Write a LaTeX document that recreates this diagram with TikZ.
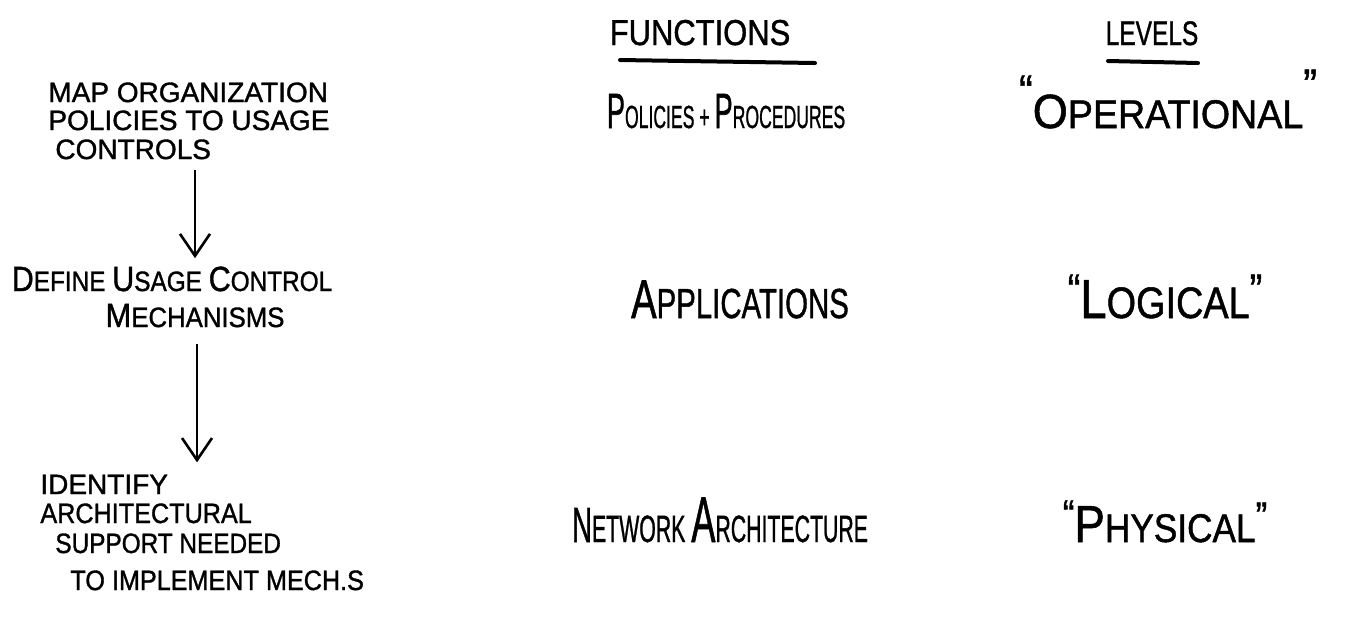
\documentclass[tikz,border=0pt]{standalone}
\usepackage{fontspec}
\setmainfont{Liberation Sans}[BoldFont=Liberation Sans, BoldFeatures={FakeBold=1.2}]
\usetikzlibrary{arrows.meta}
\newcommand\Bg[2][1.35]{\scalebox{#1}{#2}}
\newcommand\hw[2]{\scalebox{#1}[1]{#2}}
\begin{document}
\begin{tikzpicture}[x=0.5pt,y=-0.5pt,
  lbl/.style={inner sep=0pt, font=\fontsize{14}{15}\selectfont\bfseries},
  big/.style={inner sep=0pt, font=\fontsize{#1}{#1}\selectfont\bfseries},
  arr/.style={line width=1.3pt, -{Straight Barb[length=11pt,width=15pt,line width=1.3pt]}},
  uline/.style={line width=2pt, line cap=round}]
\fill[white] (0,0) rectangle (1371,623);
\useasboundingbox (0,0) rectangle (1371,623);

% headings
\node[big=18, anchor=base] (fn) at (700,45) {\hw{0.86}{FUNCTIONS}};
\coordinate (fu1) at (620,60); \coordinate (fu2) at (815,63);
\draw[uline] (fu1) -- (fu2);
\node[big=17, anchor=base] (lv) at (1152,45) {\hw{0.72}{LEVELS}};
\coordinate (lu1) at (1108,61); \coordinate (lu2) at (1198,63);
\draw[uline] (lu1) -- (lu2);

% left column
\node[lbl, anchor=base west] (m1) at (48,102) {\hw{1.0}{MAP ORGANIZATION}};
\node[lbl, anchor=base west] (m2) at (48,130) {\hw{1.0}{POLICIES TO USAGE}};
\node[lbl, anchor=base west] (m3) at (55,159) {\hw{1.0}{CONTROLS}};

\node[lbl, anchor=base] (d1) at (172,291) {\hw{0.87}{\Bg[1.25]{D}EFINE \Bg[1.25]{U}SAGE \Bg[1.25]{C}ONTROL}};
\node[lbl, anchor=base] (d2) at (195,327) {\hw{0.92}{\Bg[1.2]{M}ECHANISMS}};

\node[lbl, anchor=base west] (i1) at (40,494) {IDENTIFY};
\node[lbl, anchor=base west] (i2) at (40,523) {\hw{0.9}{ARCHITECTURAL}};
\node[lbl, anchor=base west] (i3) at (55,553) {\hw{0.87}{SUPPORT NEEDED}};
\node[lbl, anchor=base west] (i4) at (70,590) {\hw{0.9}{TO IMPLEMENT MECH.S}};

\coordinate (ax1) at (195,0);
\coordinate (ax2) at (197,0);
\draw[arr, shorten <=5pt, shorten >=4pt] (m3.south -| ax1) -- (d1.north -| ax1);
\draw[arr, shorten <=8pt, shorten >=6pt] (d2.south -| ax2) -- (i1.north -| ax2);

% functions column
\node[big=16, anchor=base] (f1) at (726,128) {\hw{0.55}{\Bg[1.55]{P}OLICIES + \Bg[1.55]{P}ROCEDURES}};
\node[big=21, anchor=base] (f2) at (740,318) {\hw{0.7}{\Bg[1.3]{A}PPLICATIONS}};
\node[big=19, anchor=base] (f3) at (720,542) {\hw{0.56}{\Bg[1.3]{N}ETWORK \Bg[1.7]{A}RCHITECTURE}};

% levels column
\node[big=20, anchor=base] (l1) at (1168,128) {\hw{0.94}{\raisebox{0.55em}{\Bg[1.1]{“}}\Bg[1.2]{O}PERATIONAL\raisebox{0.7em}{\Bg[1.1]{”}}}};
\node[big=22, anchor=base] (l2) at (1165,318) {\hw{0.86}{\raisebox{0.3em}{“}\Bg[1.25]{L}OGICAL\raisebox{0.3em}{”}}};
\node[big=20, anchor=base] (l3) at (1165,542) {\hw{0.88}{\raisebox{0.35em}{“}\Bg[1.3]{P}HYSICAL\raisebox{0.3em}{”}}};
\end{tikzpicture}
\end{document}
